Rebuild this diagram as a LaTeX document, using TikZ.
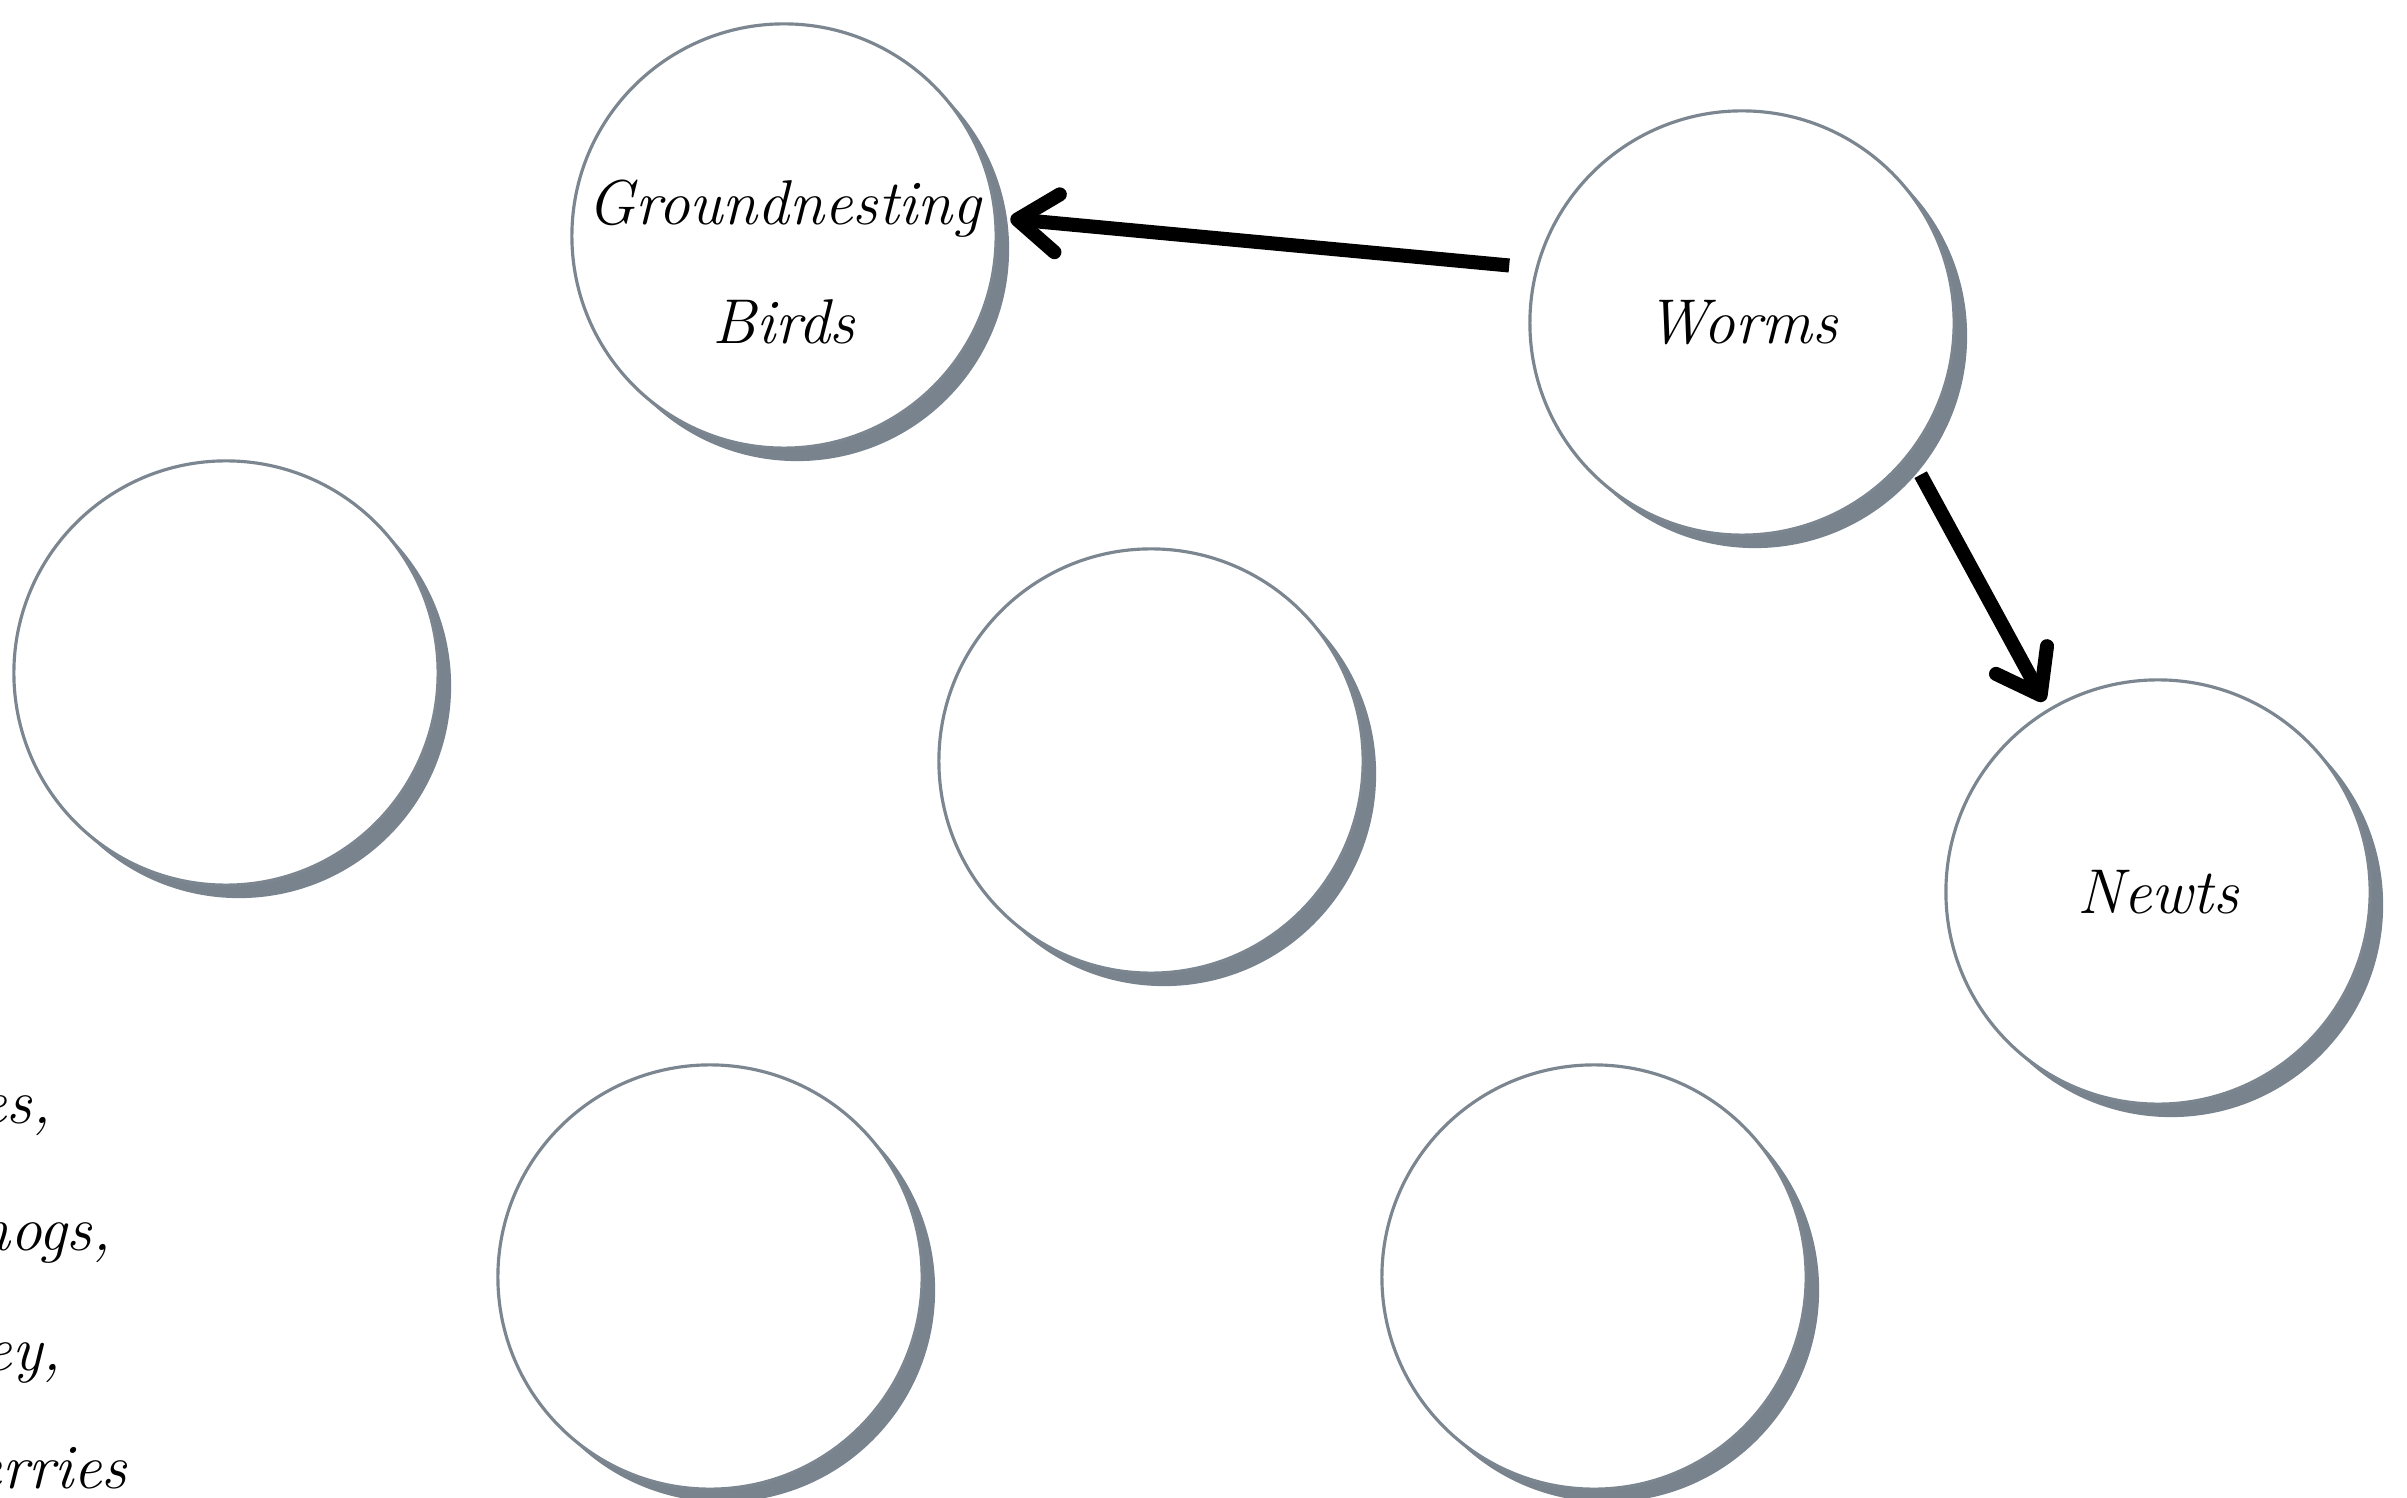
\documentclass[tikz,border=0pt]{standalone}
\usetikzlibrary{arrows.meta,shadows}
\definecolor{ringgray}{HTML}{7B8690}
\definecolor{shadowgray}{HTML}{78838D}

\begin{document}
\begin{tikzpicture}[x=0.01cm, y=-0.01cm,
    species/.style ={circle, draw=ringgray, line width=0.9pt, fill=white,
      minimum size=4.24cm, inner sep=0pt, outer sep=0pt, align=center,
      font=\fontsize{18pt}{34pt}\selectfont\itshape,
      drop shadow={shadow xshift=0.13cm, shadow yshift=-0.13cm, fill=shadowgray, opacity=1}},
    eats/.style ={line width=4pt, -{Straight Barb[length=0.4cm, width=0.58cm, round]}},
    cutoff/.style ={anchor=base east, inner sep=0pt, font=\fontsize{18pt}{34pt}\selectfont\itshape}]
   \useasboundingbox (0,0) rectangle (2407,1498);

   \node[species, label={[yshift=-0.26cm, align=center, font=\fontsize{18pt}{34pt}\selectfont\itshape]center:Groundnesting\\Birds}] (birds) at (784,236) {};
   \node[species] (worms)  at (1742,323)  {Worms};
   \node[species] (newts)  at (2158,892)  {Newts};
   \node[species] (left)   at (226,673)   {};
   \node[species] (middle) at (1151,761)  {};
   \node[species] (lowleft)  at (710,1277)  {};
   \node[species] (lowright) at (1594,1277) {};

   \node[cutoff] (line1) at (52,1123)  {es,};
   \node[cutoff] (line2) at (112,1250) {hogs,};
   \node[cutoff] (line3) at (62,1370)  {ey,};
   \node[cutoff] (line4) at (128,1488) {erries};

   \draw[eats, shorten <=0.28cm, shorten >=0.15cm] (worms.165.5) to (birds.5);
   \draw[eats, shorten <=0.24cm, shorten >=0.10cm] (worms.-38) to (newts.121);
 \end{tikzpicture}
\end{document}
